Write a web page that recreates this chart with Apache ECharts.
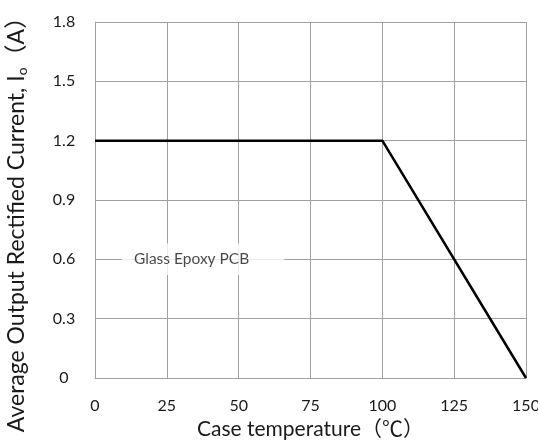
<!DOCTYPE html>
<html>
<head>
<meta charset="utf-8">
<script src="https://cdn.jsdelivr.net/npm/echarts@6/dist/echarts.min.js"></script>
<style>
  html, body { margin: 0; padding: 0; background: #fff; }
  #chart { width: 538px; height: 448px; }
</style>
</head>
<body>
<div id="chart"></div>
<script>
// 降额曲线数据
const temps = [0, 100, 150]
const currents = [1.2, 1.2, 0]
const xTicks = [0, 25, 50, 75, 100, 125, 150]
const yTicks = [0, 0.3, 0.6, 0.9, 1.2, 1.5, 1.8]
// 标注：左边缘所在位置
const notePos = [9.4, 0.6]
const noteText = 'Glass Epoxy PCB'

const font = 'Lato, "Noto Sans CJK SC", sans-serif'
const textColor = '#1a1a1a'
const gridColor = '#a0a0a0'

const chart = echarts.init(document.getElementById('chart'))

chart.setOption({
  animation: false,
  grid: { left: 95, right: 12, top: 22, bottom: 70, outerBoundsMode: 'none', containLabel: false },
  xAxis: {
    type: 'value',
    min: xTicks[0],
    max: xTicks[xTicks.length - 1],
    interval: 25,
    name: 'Case temperature（℃）',
    nameLocation: 'middle',
    nameGap: 41,
    nameTextStyle: { fontFamily: font, fontSize: 21, color: textColor },
    axisLine: { show: true, lineStyle: { color: gridColor, width: 1 } },
    axisTick: { show: false },
    axisLabel: { margin: 20, fontFamily: font, fontSize: 16, color: textColor },
    splitLine: { show: true, lineStyle: { color: gridColor, width: 1 } }
  },
  yAxis: {
    type: 'value',
    min: yTicks[0],
    max: yTicks[yTicks.length - 1],
    interval: 0.3,
    name: '{n|Average Output Rectified Current, I}{s|o}{n|（A）}',
    nameLocation: 'middle',
    nameGap: 66,
    nameTextStyle: {
      padding: [0, 38, 0, 0],
      rich: {
        n: { fontFamily: font, fontSize: 23, color: textColor },
        s: { fontFamily: font, fontSize: 14, color: textColor, verticalAlign: 'bottom', padding: [10, 0, 0, 0] }
      }
    },
    axisLine: { show: true, lineStyle: { color: gridColor, width: 1 } },
    axisTick: { show: false },
    axisLabel: {
      margin: 31,
      align: 'center',
      fontFamily: font,
      fontSize: 16,
      color: textColor,
      formatter: v => (v === 0 ? '0' : v.toFixed(1))
    },
    splitLine: { show: true, lineStyle: { color: gridColor, width: 1 } }
  },
  series: [
    {
      type: 'line',
      data: temps.map((t, i) => [t, currents[i]]),
      symbol: 'none',
      lineStyle: { color: '#000', width: 2.5 }
    },
    {
      type: 'scatter',
      data: [notePos],
      symbolSize: 0,
      z: 5,
      label: {
        show: true,
        position: 'right',
        distance: 0,
        formatter: noteText,
        backgroundColor: '#fff',
        padding: [8, 35, 8, 12],
        fontFamily: font,
        fontSize: 15.5,
        color: textColor
      }
    }
  ]
})
</script>
</body>
</html>
